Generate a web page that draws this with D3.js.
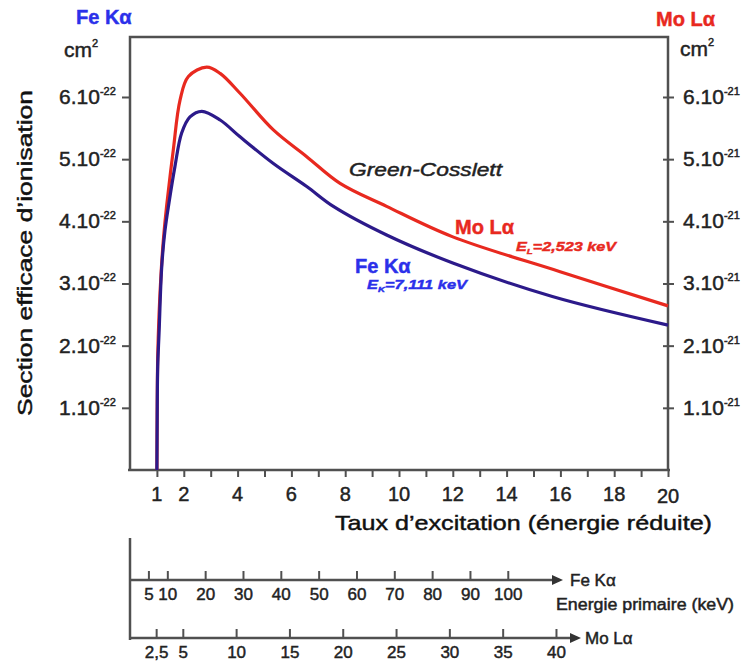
<!DOCTYPE html>
<html>
<head>
<meta charset="utf-8">
<script src="https://cdn.jsdelivr.net/npm/d3@7"></script>
<style>
  body { margin: 0; background: #fff; }
  svg text { font-family: "Liberation Sans", Arial, sans-serif; }
</style>
</head>
<body>
<svg id="chart" width="746" height="666"></svg>
<script>
// reduced energy (overvoltage ratio) and cross section
const feRatio = [1, 1.01, 1.03, 1.08, 1.18, 1.3, 1.45, 1.67, 1.92, 2.23, 2.67, 3.35, 4.09, 5.33, 6.57, 7.56, 9.54, 12.0, 15.7, 20];
const feSigma = [0, 0.8, 1.66, 2.2, 3.27, 3.85, 4.3, 4.88, 5.42, 5.68, 5.77, 5.63, 5.36, 4.93, 4.56, 4.24, 3.78, 3.33, 2.79, 2.33];
const moRatio = [1, 1.01, 1.03, 1.08, 1.16, 1.25, 1.36, 1.61, 1.86, 2.17, 2.85, 3.35, 4.09, 5.33, 6.57, 7.81, 9.54, 12.0, 15.99, 20];
const moSigma = [0, 0.9, 1.8, 2.5, 3.2, 3.75, 4.24, 5.15, 5.95, 6.33, 6.48, 6.38, 6.06, 5.47, 5.04, 4.61, 4.24, 3.75, 3.19, 2.64];

const xTicks = d3.range(1, 21);
const xLabels = [1, 2, 4, 6, 8, 10, 12, 14, 16, 18, 20];
const yTicks = [1, 2, 3, 4, 5, 6];

const feEdge = 7.111, moEdge = 2.523;   // keV
const feEnergies = [5, 10, 20, 30, 40, 50, 60, 70, 80, 90, 100];
const moEnergies = [2.5, 5, 10, 15, 20, 25, 30, 35, 40];

const RED = "#e8291f", NAVY = "#2c1a8a", BLUE = "#2b30ea", GREY = "#505050";

const svg = d3.select("#chart");
const pLeft = 130, pRight = 668, pTop = 37, pBottom = 470;

const x = d3.scaleLinear().domain([0, 20]).range([pLeft, pRight]);
const y = d3.scaleLinear().domain([0, 6.965]).range([pBottom, pTop]);

// frame
svg.append("path")
    .attr("d", `M${pLeft},${pBottom}V${pTop}H${pRight}V${pBottom}`)
    .attr("fill", "none").attr("stroke", GREY).attr("stroke-width", 2.5);

// bottom axis
const xAxis = svg.append("g").attr("transform", `translate(0,${pBottom})`)
    .call(d3.axisBottom(x).tickValues(xTicks).tickSize(7).tickFormat(""));
xAxis.select(".domain").attr("d", `M${pLeft - 2},0H${pRight + 2}`)
    .attr("stroke", GREY).attr("stroke-width", 2.5);
xAxis.selectAll(".tick line").attr("stroke", GREY).attr("stroke-width", 2);

svg.append("g").selectAll("text").data(xLabels).join("text")
    .attr("x", d => x(d)).attr("y", d => d === 20 ? 503 : 501)
    .attr("text-anchor", "middle").attr("font-size", 20).attr("fill", "#222")
    .text(d => d);

svg.append("text").attr("x", 335).attr("y", 530)
    .attr("font-size", 21).attr("fill", "#111")
    .attr("textLength", 377).attr("lengthAdjust", "spacingAndGlyphs")
    .text("Taux d\u2019excitation (énergie réduite)");

// left axis
const yLeft = svg.append("g").attr("transform", `translate(${pLeft},0)`)
    .call(d3.axisLeft(y).tickValues(yTicks).tickSize(8).tickFormat(""));
yLeft.select(".domain").remove();
yLeft.selectAll(".tick line").attr("stroke", GREY).attr("stroke-width", 2);

// right axis
const yRight = svg.append("g").attr("transform", `translate(${pRight},0)`)
    .call(d3.axisRight(y).tickValues(yTicks).tickSize(6).tickFormat(""));
yRight.select(".domain").remove();
yRight.selectAll(".tick line").attr("stroke", GREY).attr("stroke-width", 2)
    .attr("x1", -5);

function powerLabel(g, xPos, yPos, v, exp, anchor) {
    const t = g.append("text").attr("x", xPos).attr("y", yPos)
        .attr("font-size", 21).attr("fill", "#222").attr("text-anchor", anchor);
    t.append("tspan").text(v + ".10");
    t.append("tspan").attr("dy", -9).attr("font-size", 11).text(exp);
}
yTicks.forEach(v => {
    powerLabel(svg, 59, y(v) + 7, v, "-22", "start");
    powerLabel(svg, 683, y(v) + 7, v, "-21", "start");
});

function cm2(xPos, yPos) {
    const t = svg.append("text").attr("x", xPos).attr("y", yPos)
        .attr("font-size", 21).attr("fill", "#222");
    t.append("tspan").text("cm");
    t.append("tspan").attr("dy", -10).attr("font-size", 11).text("2");
}
cm2(64, 57);
cm2(680, 56);

svg.append("text").attr("x", 76).attr("y", 24)
    .attr("font-size", 20).attr("font-weight", "bold").attr("fill", BLUE)
    .text("Fe K\u03b1");
svg.append("text").attr("x", 656).attr("y", 26)
    .attr("font-size", 20).attr("font-weight", "bold").attr("fill", RED)
    .text("Mo L\u03b1");

svg.append("text")
    .attr("transform", "translate(32,253) rotate(-90)")
    .attr("text-anchor", "middle").attr("font-size", 21).attr("fill", "#111")
    .attr("textLength", 326).attr("lengthAdjust", "spacingAndGlyphs")
    .text("Section efficace d\u2019ionisation");

// curves
const line = d3.line().x(d => x(d[0])).y(d => y(d[1])).curve(d3.curveCatmullRom.alpha(0.5));
svg.append("path").datum(d3.zip(moRatio, moSigma))
    .attr("d", line).attr("fill", "none").attr("stroke", RED).attr("stroke-width", 3.2);
svg.append("path").datum(d3.zip(feRatio, feSigma))
    .attr("d", line).attr("fill", "none").attr("stroke", NAVY).attr("stroke-width", 3.2);

// annotations
svg.append("text").attr("x", 349).attr("y", 176)
    .attr("font-size", 19).attr("font-style", "italic").attr("fill", "#222")
    .attr("textLength", 153).attr("lengthAdjust", "spacingAndGlyphs")
    .text("Green-Cosslett");

function seriesLabel(xPos, yPos, name, color, edgeX, edgeY, sub, edge) {
    svg.append("text").attr("x", xPos).attr("y", yPos)
        .attr("font-size", 20).attr("font-weight", "bold").attr("fill", color)
        .text(name);
    const t = svg.append("text").attr("x", edgeX).attr("y", edgeY)
        .attr("font-size", 13.5).attr("font-weight", "bold").attr("font-style", "italic")
        .attr("fill", color)
        .attr("textLength", 100).attr("lengthAdjust", "spacingAndGlyphs");
    t.append("tspan").text("E");
    t.append("tspan").attr("dy", 3).attr("font-size", 8).text(sub);
    t.append("tspan").attr("dy", -3).text("=" + edge + " keV");
}
seriesLabel(455, 234, "Mo L\u03b1", RED, 516, 251, "L", "2,523");
seriesLabel(355, 273, "Fe K\u03b1", BLUE, 367, 289, "K", "7,111");

// primary energy scales
svg.append("line").attr("x1", pLeft).attr("x2", pLeft).attr("y1", 538).attr("y2", 640)
    .attr("stroke", GREY).attr("stroke-width", 2.5);

function energyAxis(yPos, energies, edge, endX, label, labelX, fmt) {
    svg.append("line").attr("x1", pLeft).attr("x2", endX - 8)
        .attr("y1", yPos).attr("y2", yPos)
        .attr("stroke", GREY).attr("stroke-width", 2.5);
    svg.append("path")
        .attr("d", `M${endX},${yPos}L${endX - 11},${yPos - 5}L${endX - 11},${yPos + 5}Z`)
        .attr("fill", "#333");
    const g = svg.append("g");
    g.selectAll("line").data(energies).join("line")
        .attr("x1", d => x(d / edge)).attr("x2", d => x(d / edge))
        .attr("y1", yPos - 9).attr("y2", yPos)
        .attr("stroke", GREY).attr("stroke-width", 2);
    g.selectAll("text").data(energies).join("text")
        .attr("x", d => x(d / edge)).attr("y", yPos + 20)
        .attr("text-anchor", "middle").attr("font-size", 17).attr("fill", "#222")
        .text(fmt);
    svg.append("text").attr("x", labelX).attr("y", yPos + 6)
        .attr("font-size", 17).attr("fill", "#222").text(label);
}
energyAxis(580, feEnergies, feEdge, 563, "Fe K\u03b1", 570, d => d);
energyAxis(638, moEnergies, moEdge, 581, "Mo L\u03b1", 585, d => String(d).replace(".", ","));

svg.append("text").attr("x", 556).attr("y", 610)
    .attr("font-size", 16).attr("fill", "#222")
    .attr("textLength", 178).attr("lengthAdjust", "spacingAndGlyphs")
    .text("Energie primaire (keV)");

// the scanned figure has heavier glyphs: thicken every label a little
svg.selectAll("text").each(function () {
    d3.select(this).attr("stroke", this.getAttribute("fill")).attr("stroke-width", 0.45);
});
</script>
</body>
</html>
